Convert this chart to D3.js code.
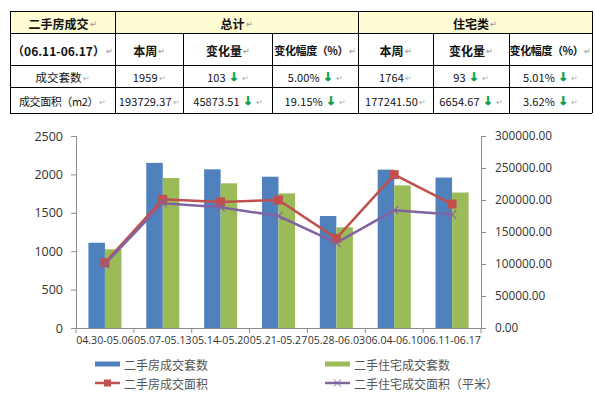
<!DOCTYPE html>
<head>
<meta charset="utf-8">
<title>二手房成交</title>
<style>
  body { margin: 0; padding: 0; background: #fff; }
  svg { display: block; }
  .tbl text { font-family: 'Noto Sans CJK SC', sans-serif; font-size: 11.5px; fill: #111; }
  .tbl text.head { font-weight: 700; font-size: 12px; }
  .tbl text.num { font-size: 11px; letter-spacing: 0.1px; }
  .tbl text.narrow { font-size: 11px; letter-spacing: -0.4px; }
  .tbl .arrow { fill: #0a9a4a; font-family: 'DejaVu Sans', sans-serif; font-weight: 700; font-size: 12px; stroke: #0a9a4a; stroke-width: 0.6; letter-spacing: 0; }
  .tbl .mark { fill: #aaa; font-size: 8px; letter-spacing: 0; }
  .axis text { font-family: 'Open Sans', sans-serif; fill: #333; }
  .axis path, .axis line { stroke: #8c8c8c; }
  .legend text { font-family: 'Noto Sans CJK SC', sans-serif; font-size: 12px; fill: #555; }
</style>
</head>
<body>
<div id="vis"></div>
<script src="https://cdn.jsdelivr.net/npm/d3@7"></script>
<script>
// ---- data ----
var categories = ["04.30-05.06", "05.07-05.13", "05.14-05.20", "05.21-05.27", "05.28-06.03", "06.04-06.10", "06.11-06.17"];
var houseCount = [1110, 2150, 2066, 1970, 1458, 2062, 1959];
var resCount   = [1025, 1953, 1884, 1753, 1311, 1857, 1764];
var houseArea  = [102000, 201000, 197000, 200000, 140000, 239602.88, 193729.37];
var resArea    = [100000, 194800, 188500, 175000, 133000, 183896.17, 177241.50];
var seriesNames = ["二手房成交套数", "二手住宅成交套数", "二手房成交面积", "二手住宅成交面积（平米）"];

var headRow1 = ["二手房成交", "总计", "住宅类"];
var headRow2 = ["（06.11-06.17）", "本周", "变化量", "变化幅度（%）", "本周", "变化量", "变化幅度（%）"];
var rowLabels = ["成交套数", "成交面积（m2）"];
var rowValues = [
  ["1959", "103", "5.00%", "1764", "93", "5.01%"],
  ["193729.37", "45873.51", "19.15%", "177241.50", "6654.67", "3.62%"]
];
var rowDown = [
  [false, true, true, false, true, true],
  [false, true, true, false, true, true]
];

var width = 595, height = 399;
var svg = d3.select("#vis").append("svg")
  .attr("width", width).attr("height", height);
svg.append("rect").attr("width", width).attr("height", height).attr("fill", "#fff");

// ---- table ----
var colX = [10, 115, 183.5, 272.5, 358, 433, 509, 592],
    rowY = [11, 33, 65, 87, 113],
    yellow = "#fffbd2";

var tbl = svg.append("g").attr("class", "tbl");

tbl.append("rect").attr("x", colX[0]).attr("y", rowY[0])
  .attr("width", colX[7] - colX[0]).attr("height", rowY[1] - rowY[0]).attr("fill", yellow);

function cellText(x, y, txt, cls, down) {
  var t = tbl.append("text").attr("x", x).attr("y", y)
    .attr("text-anchor", "middle").attr("dominant-baseline", "central");
  if (cls) t.attr("class", cls);
  t.append("tspan").text(txt);
  if (down) t.append("tspan").attr("class", "arrow").attr("dx", 3).text("↓");
  t.append("tspan").attr("class", "mark").attr("dx", down ? 3 : 1).text("↵");
}

var spans1 = [[0, 1], [1, 4], [4, 7]];
spans1.forEach(function(s, i) {
  cellText((colX[s[0]] + colX[s[1]]) / 2, (rowY[0] + rowY[1]) / 2 + 1, headRow1[i], "head");
});
headRow2.forEach(function(h, i) {
  var cls = (i === 3 || i === 6) ? "head narrow" : "head";
  cellText((colX[i] + colX[i + 1]) / 2, (rowY[1] + rowY[2]) / 2 + 1, h, cls);
});
rowLabels.forEach(function(l, r) {
  var cy = (rowY[r + 2] + rowY[r + 3]) / 2 + 1;
  cellText((colX[0] + colX[1]) / 2, cy, l, r === 1 ? "narrow" : null);
  rowValues[r].forEach(function(v, c) {
    cellText((colX[c + 1] + colX[c + 2]) / 2, cy, v, "num", rowDown[r][c]);
  });
});

var lines = tbl.append("g").attr("stroke", "#000").attr("stroke-width", 1).attr("shape-rendering", "crispEdges");
rowY.forEach(function(y) {
  lines.append("line").attr("x1", colX[0]).attr("x2", colX[7]).attr("y1", y).attr("y2", y);
});
colX.forEach(function(x, i) {
  var y1 = (i === 0 || i === 1 || i === 4 || i === 7) ? rowY[0] : rowY[1];
  lines.append("line").attr("x1", x).attr("x2", x).attr("y1", y1).attr("y2", rowY[4]);
});

// ---- chart ----
var plot = { left: 76, right: 481, top: 136, bottom: 328 };

var x0 = d3.scaleBand().domain(categories).range([plot.left, plot.right]);
var bw = x0.bandwidth() / 3.5;
var x1 = d3.scaleBand().domain([0, 1]).range([x0.bandwidth() / 2 - bw, x0.bandwidth() / 2 + bw]);
var yL = d3.scaleLinear().domain([0, 2500]).range([plot.bottom, plot.top]);
var yR = d3.scaleLinear().domain([0, 300000]).range([plot.bottom, plot.top]);

var colors = ["#4f81bd", "#9bbb59", "#c0504d", "#8064a2"];

var bars = svg.append("g");
[houseCount, resCount].forEach(function(vals, s) {
  bars.selectAll(".b" + s).data(vals).enter().append("rect")
    .attr("x", function(d, i) { return x0(categories[i]) + x1(s); })
    .attr("width", x1.bandwidth())
    .attr("y", function(d) { return yL(d); })
    .attr("height", function(d) { return yL(0) - yL(d); })
    .attr("fill", colors[s]);
});

var axL = svg.append("g").attr("class", "axis")
  .attr("transform", "translate(" + plot.left + ",0)")
  .call(d3.axisLeft(yL).tickValues([0, 500, 1000, 1500, 2000, 2500])
    .tickFormat(d3.format("d")).tickSize(5).tickPadding(8));
axL.selectAll("text").style("font-size", "12.5px");

var axR = svg.append("g").attr("class", "axis")
  .attr("transform", "translate(" + plot.right + ",0)")
  .call(d3.axisRight(yR).tickValues([0, 50000, 100000, 150000, 200000, 250000, 300000])
    .tickFormat(d3.format(".2f")).tickSize(5).tickPadding(9));
axR.selectAll("text").style("font-size", "11.8px");

var axB = svg.append("g").attr("class", "axis")
  .attr("transform", "translate(0," + plot.bottom + ")")
  .call(d3.axisBottom(x0).tickSize(0).tickPadding(8));
axB.selectAll("text").style("font-size", "10.6px");
axB.selectAll(".sep").data(categories.concat(["end"])).enter().append("line")
  .attr("x1", function(d, i) { return plot.left + i * x0.step(); })
  .attr("x2", function(d, i) { return plot.left + i * x0.step(); })
  .attr("y1", 0).attr("y2", 5).attr("stroke", "#8c8c8c");

var cx = function(d, i) { return x0(categories[i]) + x0.bandwidth() / 2; };
var lineGen = d3.line().x(cx).y(function(d) { return yR(d); });

svg.append("path").datum(houseArea).attr("d", lineGen)
  .attr("fill", "none").attr("stroke", colors[2]).attr("stroke-width", 2.5);
svg.append("path").datum(resArea).attr("d", lineGen)
  .attr("fill", "none").attr("stroke", colors[3]).attr("stroke-width", 2.5);

svg.selectAll(".sq").data(houseArea).enter().append("rect")
  .attr("x", function(d, i) { return cx(d, i) - 4.5; })
  .attr("y", function(d) { return yR(d) - 4.5; })
  .attr("width", 9).attr("height", 9).attr("fill", colors[2]);

var cross = d3.symbol().type(d3.symbolX).size(45);
svg.selectAll(".cr").data(resArea).enter().append("path")
  .attr("d", cross)
  .attr("transform", function(d, i) { return "translate(" + cx(d, i) + "," + yR(d) + ")"; })
  .attr("fill", "none").attr("stroke", colors[3]).attr("stroke-width", 1.2);

// ---- legend ----
var legend = svg.append("g").attr("class", "legend");
var legPos = [[95, 364], [325, 364], [95, 383], [325, 383]];
seriesNames.forEach(function(n, i) {
  var g = legend.append("g").attr("transform", "translate(" + legPos[i][0] + "," + legPos[i][1] + ")");
  if (i < 2) {
    g.append("rect").attr("x", 0).attr("y", -2.5).attr("width", 25).attr("height", 5).attr("fill", colors[i]);
  } else {
    g.append("line").attr("x1", 0).attr("x2", 25).attr("y1", 0).attr("y2", 0)
      .attr("stroke", colors[i]).attr("stroke-width", 2.5);
    if (i === 2) {
      g.append("rect").attr("x", 9).attr("y", -3.5).attr("width", 7).attr("height", 7).attr("fill", colors[i]);
    } else {
      g.append("path").attr("d", d3.symbol().type(d3.symbolX).size(35)).attr("transform", "translate(12.5,0)")
        .attr("fill", "none").attr("stroke", colors[i]).attr("stroke-width", 1);
    }
  }
  g.append("text").attr("x", 29).attr("y", 0).attr("dominant-baseline", "central").text(n);
});
</script>
</body>
